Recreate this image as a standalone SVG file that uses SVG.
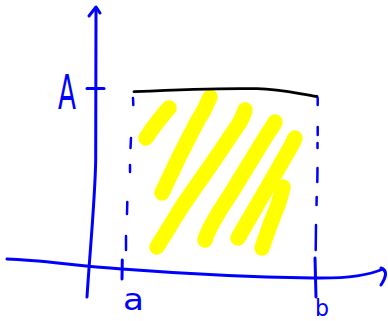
<svg xmlns="http://www.w3.org/2000/svg" width="388" height="321" viewBox="0 0 388 321">
<style>
.ax{fill:none;stroke:#0000ff;stroke-width:3;stroke-linecap:round;stroke-linejoin:round}
.ds{fill:none;stroke:#0000ff;stroke-width:2.5;stroke-linecap:round}
.hl{fill:none;stroke:#ffff00;stroke-width:15.5;stroke-linecap:round;stroke-linejoin:round}
.lb{font-family:"DejaVu Sans",sans-serif;fill:#0000ff}
</style>
<rect width="388" height="321" fill="#ffffff"/>
<g id="shading">
<path class="hl" d="M169,108 Q158,120 146,138"/>
<path class="hl" d="M210,97 Q205,110 197,122 L180,155 L162,193"/>
<path class="hl" d="M245,110 Q243,117 240,122 L213,162 L183,205 L157,247"/>
<path class="hl" d="M275,122 Q272,128 268,133 L230,195 Q208,228 205,240"/>
<path class="hl" d="M295,138 Q293,143 290,148 L263,195 L238,238"/>
<path class="hl" d="M283,187 Q281,195 278,205 L270,225 L262,248"/>
</g>
<g id="curve">
<path d="M134,91.7 C180,89.5 220,88 257,88.7 C280,89 295,93 317,96.5" fill="none" stroke="#000000" stroke-width="2.8" stroke-linecap="round"/>
</g>
<g id="connectors">
<g id="y-axis">
<path class="ax" d="M96,8 L95.7,160 C95,200 90,250 87,297"/>
<path class="ax" d="M89,16 L96,7 L100,13"/>
<path class="ax" d="M87,88.5 L104,88.5"/>
</g>
<g id="x-axis">
<path class="ax" d="M7,259 C40,260 70,265 122,269 S250,277 313,278 C340,278.5 365,277 383,269"/>
<path class="ax" d="M381,268 C386,270 388,274 381,285"/>
<path class="ax" d="M122.3,260 L122,279"/>
<path class="ax" d="M315,258 L316,297"/>
</g>
<g id="dash-a">
<path class="ds" d="M133,98 L133.3,105 M131,138 L130.5,148 M130,165 L130,172 M127.3,202 L127,214 M126,236 L126,250"/>
</g>
<g id="dash-b">
<path class="ds" d="M317.7,98 L317.7,105 M317.7,127 L317.7,135 M317.5,143 L317.5,148 M317.5,168 L317.3,182 M316.7,197 L316.5,205 M316,225 L315.7,250"/>
</g>
</g>
<g id="label-A"><text class="lb" x="58" y="109" font-size="48" textLength="18" lengthAdjust="spacingAndGlyphs">A</text></g>
<g id="label-a"><text class="lb" x="123" y="310" font-size="31" textLength="21" lengthAdjust="spacingAndGlyphs">a</text></g>
<g id="label-b"><text class="lb" x="315" y="315.5" font-size="23" textLength="14" lengthAdjust="spacingAndGlyphs">b</text></g>
</svg>
